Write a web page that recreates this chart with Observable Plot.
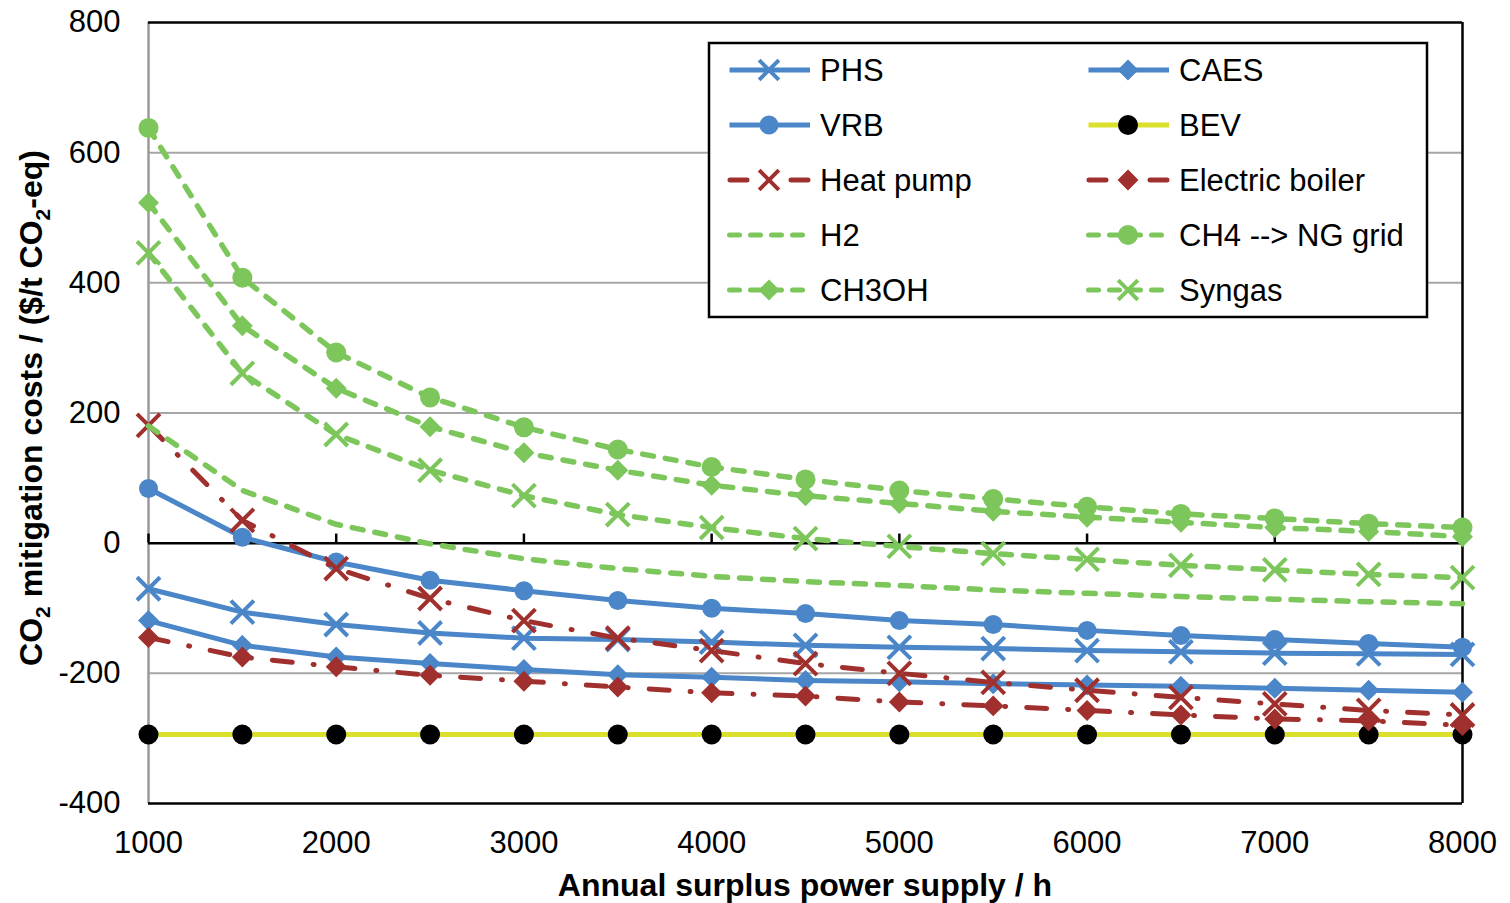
<!DOCTYPE html>
<html><head><meta charset="utf-8">
<script src="https://cdn.jsdelivr.net/npm/d3@7"></script>
<script src="https://cdn.jsdelivr.net/npm/@observablehq/plot@0.6"></script>
<style>body{margin:0;background:#fff} svg{display:block}</style>
</head><body><div id="chart"></div>
<script>
// ---- data ----
const hours = [1000,1500,2000,2500,3000,3500,4000,4500,5000,5500,6000,6500,7000,7500,8000];
const PHS        = [-70,-106,-125,-138,-146,-148,-152,-157,-160,-162,-165,-167,-169,-170,-171];
const CAES       = [-119,-157,-175,-185,-194,-202,-206,-211,-213,-216,-218,-220,-223,-226,-229];
const VRB        = [84,9,-29,-57,-73,-88,-100,-108,-119,-125,-134,-142,-148,-154,-160];
const BEV        = [-294,-294,-294,-294,-294,-294,-294,-294,-294,-294,-294,-294,-294,-294,-294];
const HeatPump   = [181,35,-39,-85,-119,-146,-165,-185,-200,-214,-226,-237,-247,-257,-264];
const ElecBoiler = [-145,-175,-190,-203,-212,-221,-230,-235,-244,-250,-257,-264,-270,-273,-280];
const H2         = [180,81,29,-1,-24,-39,-51,-59,-65,-72,-77,-82,-86,-90,-93];
const CH4        = [638,408,293,224,178,144,117,98,81,68,56,45,38,30,24];
const CH3OH      = [523,334,238,179,139,112,89,73,61,49,40,32,24,18,10];
const Syngas     = [446,261,167,112,73,44,24,7,-5,-16,-25,-34,-41,-48,-53];
const seriesNames = ["PHS","CAES","VRB","BEV","Heat pump","Electric boiler","H2","CH4 --> NG grid","CH3OH","Syngas"];
const xTicks = [1000,2000,3000,4000,5000,6000,7000,8000];
const yTicks = [-400,-200,0,200,400,600,800];
const gridVals = [-200,200,400,600];

// ---- styles ----
const BLUE="#4a86c8", GREEN="#7cc65b", RED="#a0302e", YELLOW="#dbe02c";
const DASH="11,12", DASHDOT="20,21,1,21";
const styles = {
  "PHS":{values:PHS,color:BLUE,dash:null,symbol:"times",mfill:"none",mstroke:BLUE,r:10.5},
  "CAES":{values:CAES,color:BLUE,dash:null,symbol:"diamond2",mfill:BLUE,mstroke:BLUE,r:8.5},
  "VRB":{values:VRB,color:BLUE,dash:null,symbol:"circle",mfill:BLUE,mstroke:"none",r:9.5},
  "BEV":{values:BEV,color:YELLOW,dash:null,symbol:"circle",mfill:"black",mstroke:"none",r:10},
  "Heat pump":{values:HeatPump,color:RED,dash:DASHDOT,symbol:"times",mfill:"none",mstroke:RED,r:10.5},
  "Electric boiler":{values:ElecBoiler,color:RED,dash:DASHDOT,symbol:"diamond2",mfill:RED,mstroke:RED,r:8.5},
  "H2":{values:H2,color:GREEN,dash:DASH,symbol:null},
  "CH4 --> NG grid":{values:CH4,color:GREEN,dash:DASH,symbol:"circle",mfill:GREEN,mstroke:"none",r:10},
  "CH3OH":{values:CH3OH,color:GREEN,dash:DASH,symbol:"diamond2",mfill:GREEN,mstroke:GREEN,r:8.5},
  "Syngas":{values:Syngas,color:GREEN,dash:DASH,symbol:"times",mfill:"none",mstroke:GREEN,r:10.5}
};

const W=1510,H=903,ML=148,MR=48,MT=22,MB=100;
const FONT='"Liberation Sans", Arial, Helvetica, sans-serif';

const marks = [
  Plot.ruleY(gridVals,{stroke:"#a6a6a6",strokeWidth:2}),
  Plot.ruleX([1000],{stroke:"#9a9a9a",strokeWidth:2.5}),
  Plot.ruleY([800,-400],{stroke:"black",strokeWidth:2.5}),
  Plot.ruleX([8000],{stroke:"black",strokeWidth:2.5}),
  Plot.ruleY([0],{stroke:"black",strokeWidth:2.5}),
  Plot.ruleX(xTicks,{y1:0,y2:14,stroke:"black",strokeWidth:2.5}),
  Plot.axisY({ticks:yTicks,tickSize:0,tickPadding:28,tickFormat:d=>String(d),fontSize:31,label:null}),
  Plot.axisX({ticks:xTicks,tickSize:0,tickPadding:27,tickFormat:d=>String(d),fontSize:31,label:null})
];
for (const name of seriesNames) {
  const s = styles[name];
  const data = hours.map((h,i)=>({h, v:s.values[i]}));
  marks.push(Plot.line(data,{x:"h",y:"v",stroke:s.color,strokeWidth:s.dash===DASH?5.5:5,strokeDasharray:s.dash||undefined,strokeLinecap:s.dash?"round":"butt",strokeLinejoin:"round"}));
  if (s.symbol) {
    marks.push(Plot.dot(data,{x:"h",y:"v",symbol:s.symbol,r:s.r,fill:s.mfill,stroke:s.mstroke,strokeWidth:s.symbol==="times"?4:1.5}));
  }
}

const plot = Plot.plot({
  width:W,height:H,marginLeft:ML,marginRight:MR,marginTop:MT,marginBottom:MB,
  x:{domain:[1000,8000]},
  y:{domain:[-400,800]},
  style:{fontFamily:FONT,color:"black",background:"white",overflow:"visible"},
  marks
});
document.getElementById("chart").append(plot);

const svg = d3.select(plot);
// axis titles
svg.append("text").attr("x",(ML+W-MR)/2).attr("y",896).attr("text-anchor","middle")
  .attr("font-family",FONT).attr("font-weight","bold").attr("font-size",32).attr("fill","black")
  .text("Annual surplus power supply / h");
const yl = svg.append("text").attr("transform","translate(42,408) rotate(-90)").attr("text-anchor","middle")
  .attr("font-family",FONT).attr("font-weight","bold").attr("font-size",32).attr("fill","black");
yl.append("tspan").text("CO");
yl.append("tspan").attr("font-size",21).attr("dy",8).text("2");
yl.append("tspan").attr("dy",-8).text(" mitigation costs / ($/t CO");
yl.append("tspan").attr("font-size",21).attr("dy",8).text("2");
yl.append("tspan").attr("dy",-8).text("-eq)");

// legend
const lg = svg.append("g");
lg.append("rect").attr("x",709).attr("y",43).attr("width",718).attr("height",274)
  .attr("fill","white").attr("stroke","black").attr("stroke-width",2.5);
const symMap = {times:d3.symbolTimes, diamond2:d3.symbolDiamond2, circle:d3.symbolCircle};
seriesNames.forEach((name,i)=>{
  const s = styles[name];
  const col = i%2, row = Math.floor(i/2);
  const x0 = col===0?727:1086, y0 = 70+row*55;
  const dashed = s.dash===DASH, dd = s.dash===DASHDOT;
  lg.append("line").attr("x1",x0+(dd?3:2.5)).attr("x2",x0+83).attr("y1",y0).attr("y2",y0)
    .attr("stroke",s.color).attr("stroke-width",5)
    .attr("stroke-dasharray",dashed?"10,11":(dd?"17,44":null))
    .attr("stroke-linecap",s.dash?"round":"butt");
  if (s.symbol) {
    const rr = s.symbol==="times"?9:s.r;
    lg.append("path").attr("transform",`translate(${x0+42},${y0})`)
      .attr("d",d3.symbol(symMap[s.symbol], Math.PI*rr*rr)())
      .attr("fill",s.mfill).attr("stroke",s.mstroke).attr("stroke-width",s.symbol==="times"?4:1.5);
  }
  lg.append("text").attr("x",x0+93).attr("y",y0).attr("dy","0.35em").attr("text-anchor","start")
    .attr("font-family",FONT).attr("font-size",31).attr("fill","black").text(name);
});
</script></body></html>
